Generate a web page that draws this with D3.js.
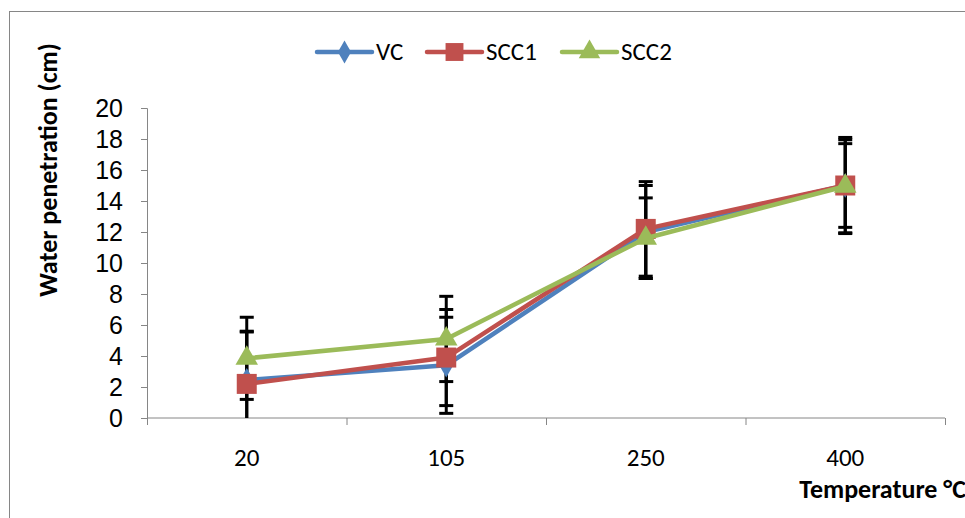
<!DOCTYPE html>
<html>
<head>
<meta charset="utf-8">
<script src="https://cdn.jsdelivr.net/npm/d3@7"></script>
<style>
  body { margin: 0; background: #fff; }
  svg { display: block; font-family: Carlito, Lato, "Open Sans", sans-serif; }
</style>
</head>
<body>
<script>
// chart data
const categories = ["20", "105", "250", "400"];
const seriesNames = ["VC", "SCC1", "SCC2"];
const vcValues = [2.45, 3.4, 12.0, 15.0];
const scc1Values = [2.2, 3.9, 12.2, 15.0];
const scc2Values = [3.85, 5.1, 11.6, 14.95];
const vcErrors = [3.1, 3.1, 3.0, 2.7];
const scc1Errors = [3.4, 3.1, 3.05, 3.1];
const scc2Errors = [2.65, 2.75, 2.6, 3.0];
const yTicks = [0, 2, 4, 6, 8, 10, 12, 14, 16, 18, 20];

const w = 965, h = 518;
const plotLeft = 147, plotRight = 945, plotTop = 108, plotBottom = 418;
const colors = ["#4F81BD", "#C0504D", "#9BBB59"];

const series = [
  { name: seriesNames[0], values: vcValues, errors: vcErrors, color: colors[0], shape: d3.symbolDiamond, size: 170, legSize: 150 },
  { name: seriesNames[1], values: scc1Values, errors: scc1Errors, color: colors[1], shape: d3.symbolSquare, size: 400, legSize: 320 },
  { name: seriesNames[2], values: scc2Values, errors: scc2Errors, color: colors[2], shape: d3.symbolTriangle, size: 220, legSize: 200 }
];

const svg = d3.select("body").append("svg")
  .attr("width", w)
  .attr("height", h);

// outer chart border
svg.append("rect")
  .attr("x", 9.5).attr("y", 11.5)
  .attr("width", 970).attr("height", 520)
  .attr("fill", "none")
  .attr("stroke", "#868686")
  .attr("stroke-width", 1);

const x = d3.scaleBand().domain(categories).range([plotLeft, plotRight]);
const y = d3.scaleLinear().domain([0, 20]).range([plotBottom, plotTop]);

// y axis
const yAxis = svg.append("g")
  .attr("transform", "translate(" + plotLeft + ",0)")
  .call(d3.axisLeft(y).tickValues(yTicks).tickSize(6).tickPadding(18));
yAxis.select(".domain").attr("stroke", "#868686");
yAxis.selectAll(".tick line").attr("stroke", "#868686");
yAxis.selectAll("text").attr("font-size", 25).attr("fill", "#000").attr("font-family", null);

// x axis with ticks between categories
const xAxis = svg.append("g")
  .attr("transform", "translate(0," + plotBottom + ")");
xAxis.append("line")
  .attr("x1", plotLeft).attr("x2", plotRight)
  .attr("stroke", "#868686");
const bounds = categories.map(c => x(c)).concat([plotRight]);
xAxis.selectAll(".tk").data(bounds).enter().append("line")
  .attr("x1", d => d + 0.5).attr("x2", d => d + 0.5)
  .attr("y1", 0).attr("y2", 7)
  .attr("stroke", "#868686");
xAxis.selectAll(".lbl").data(categories).enter().append("text")
  .attr("x", d => x(d) + x.bandwidth() / 2)
  .attr("y", 48)
  .attr("text-anchor", "middle")
  .attr("font-size", 25)
  .text(d => d);

const cx = (d, i) => x(categories[i]) + x.bandwidth() / 2;

// error bars
const clipY = v => y(Math.max(0, Math.min(20, v)));
series.forEach(s => {
  const g = svg.append("g");
  s.values.forEach((v, i) => {
    const px = cx(v, i);
    const hi = v + s.errors[i], lo = v - s.errors[i];
    g.append("line")
      .attr("x1", px).attr("x2", px)
      .attr("y1", clipY(hi)).attr("y2", clipY(lo))
      .attr("stroke", "#000").attr("stroke-width", 3);
    [hi, lo].forEach(e => {
      if (e < 0 || e > 20) return;
      g.append("line")
        .attr("x1", px - 7).attr("x2", px + 7)
        .attr("y1", y(e)).attr("y2", y(e))
        .attr("stroke", "#000").attr("stroke-width", 3);
    });
  });
});

// lines and markers
const line = d3.line().x((d, i) => cx(d, i)).y(d => y(d));
series.forEach(s => {
  svg.append("path")
    .datum(s.values)
    .attr("d", line)
    .attr("fill", "none")
    .attr("stroke", s.color)
    .attr("stroke-width", 4.5)
    .attr("stroke-linejoin", "round");
  svg.selectAll(null).data(s.values).enter().append("path")
    .attr("transform", (d, i) => "translate(" + cx(d, i) + "," + y(d) + ")")
    .attr("d", d3.symbol().type(s.shape).size(s.size))
    .attr("fill", s.color);
});

// legend
const legendX = [317, 427, 562];
series.forEach((s, i) => {
  const g = svg.append("g").attr("transform", "translate(" + legendX[i] + ",52)");
  g.append("line")
    .attr("x1", 0).attr("x2", 55)
    .attr("stroke", s.color).attr("stroke-width", 4.5)
    .attr("stroke-linecap", "round");
  g.append("path")
    .attr("transform", "translate(27.5,0)")
    .attr("d", d3.symbol().type(s.shape).size(s.legSize))
    .attr("fill", s.color);
  g.append("text")
    .attr("x", 59).attr("y", 8)
    .attr("font-size", 25)
    .text(s.name);
});

// axis titles
svg.append("text")
  .attr("transform", "translate(57,170) rotate(-90)")
  .attr("text-anchor", "middle")
  .attr("font-size", 26)
  .attr("font-weight", "bold")
  .text("Water penetration (cm)");

svg.append("text")
  .attr("x", 966).attr("y", 498)
  .attr("text-anchor", "end")
  .attr("font-size", 26)
  .attr("font-weight", "bold")
  .text("Temperature °C");
</script>
</body>
</html>
